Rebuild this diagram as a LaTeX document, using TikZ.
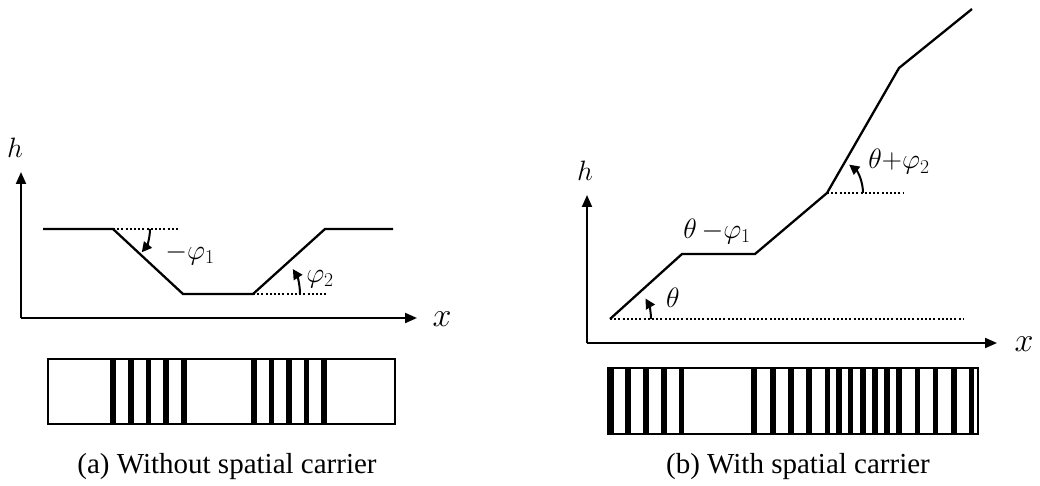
\RequirePackage{fix-cm}
\documentclass[tikz,border=0pt]{standalone}
\usepackage{fontspec}
\setmainfont{Liberation Serif}
\usetikzlibrary{arrows.meta}
\tikzset{
  axis/.style={line width=2pt,-{Triangle[length=12pt,width=10pt]}},
  profile/.style={line width=2.3pt,line join=miter},
  guide/.style={line width=2.4pt,dash pattern=on 2pt off 2.2pt},
  turn/.style={line width=2pt,-{Triangle[length=10pt,width=10pt]}},
  stripbox/.style={line width=1.8pt},
  lbl/.style={font=\fontsize{28}{32}\selectfont},
  capt/.style={font=\fontsize{29}{34}\selectfont}
}
\begin{document}
\begin{tikzpicture}[x=1pt,y=1pt]
\useasboundingbox (0,0) rectangle (1040,485);
% (a) without spatial carrier
\coordinate (Oa) at (21,167);
\coordinate (Ya) at (21,313);
\coordinate (Xa) at (417,167);
\draw[axis] (Oa)--(Ya);
\draw[axis] (Oa)--(Xa);
\node[lbl] (ha) at (15,337){$h$};
\node[lbl,font=\fontsize{34}{38}\selectfont] (xa) at (442,166){$x$};
\coordinate (A1) at (43,256);
\coordinate (A2) at (113,256);
\coordinate (A3) at (183,191);
\coordinate (A4) at (253,191);
\coordinate (A5) at (325,256);
\coordinate (A6) at (393,256);
\draw[profile] (A1)--(A2)--(A3)--(A4)--(A5)--(A6);
\draw[guide] (A2)--++(67,0);
\draw[guide] (A4)--++(75,0);
\draw[turn] (A2) ++(37,0) arc[start angle=0,end angle=-39,radius=37];
\draw[turn] (A4) ++(47,0) arc[start angle=0,end angle=32,radius=47];
\node[lbl] (pa1) at (190,231){$-\varphi_1$};
\node[lbl] (pa2) at (320,206){$\varphi_2$};
% fringes (a)
\foreach \c in {113,130.7,148.4,166.1,183.8,254,271.5,289,306.5,324}{\fill (\c-2.8,61) rectangle (\c+2.8,126);}
\draw[stripbox] (48,61) rectangle (395,126);
\node[capt] (capa) at (227,18){(a) Without spatial carrier};
% (b) with spatial carrier
\coordinate (Ob) at (587,142);
\coordinate (Yb) at (587,290);
\coordinate (Xb) at (997,142);
\draw[axis] (Ob)--(Yb);
\draw[axis] (Ob)--(Xb);
\node[lbl] (hb) at (585,314){$h$};
\node[lbl,font=\fontsize{34}{38}\selectfont] (xb) at (1024,141){$x$};
\coordinate (B1) at (610,166);
\coordinate (B2) at (682,231);
\coordinate (B3) at (755,231);
\coordinate (B4) at (827,292);
\coordinate (B5) at (899,417);
\coordinate (B6) at (972,476);
\draw[profile] (B1)--(B2)--(B3)--(B4)--(B5)--(B6);
\draw[guide] (B1)--++(353,0);
\draw[guide] (B4)--++(76,0);
\draw[turn] (B1) ++(41,0) arc[start angle=0,end angle=30,radius=41];
\draw[turn] (B4) ++(36,0) arc[start angle=0,end angle=52,radius=36];
\node[lbl] (tb) at (673,187){$\theta$};
\node[lbl] (tb1) at (717,254){$\theta\,{-}\varphi_1$};
\node[lbl] (tb2) at (899,323){$\theta{+}\varphi_2$};
% fringes (b)
\foreach \c in {611,628,646,664,681.5,754,773,791,809,827.5,839,850.5,863,875,887,899,917.5,935.5,954,971.5}{\fill (\c-2.8,51) rectangle (\c+2.8,117);}
\draw[stripbox] (608,51) rectangle (978,117);
\node[capt] (capb) at (798,18){(b) With spatial carrier};
\end{tikzpicture}
\end{document}
